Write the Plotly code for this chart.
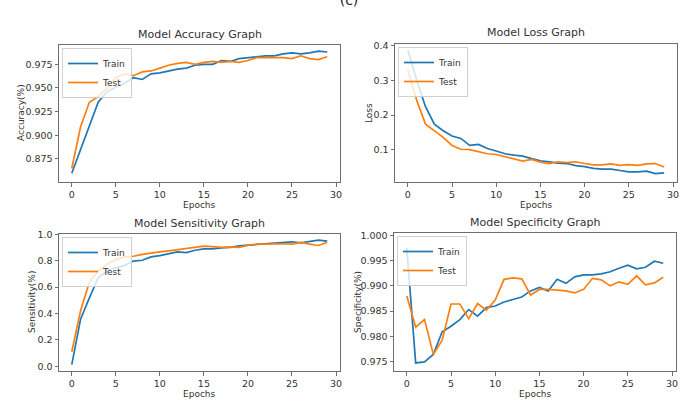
import plotly.graph_objects as go

epochs = list(range(30))

acc_train = [0.860, 0.885, 0.912, 0.935, 0.946, 0.951, 0.955, 0.961, 0.959, 0.965,
             0.966, 0.968, 0.970, 0.971, 0.974, 0.975, 0.975, 0.979, 0.978, 0.981,
             0.982, 0.983, 0.984, 0.984, 0.986, 0.987, 0.986, 0.987, 0.989, 0.988]
acc_test = [0.865, 0.909, 0.935, 0.941, 0.950, 0.961, 0.965, 0.963, 0.967, 0.968,
            0.971, 0.974, 0.976, 0.977, 0.975, 0.977, 0.978, 0.977, 0.978, 0.977,
            0.979, 0.982, 0.982, 0.982, 0.982, 0.981, 0.984, 0.981, 0.980, 0.983]

loss_train = [0.387, 0.300, 0.224, 0.174, 0.155, 0.140, 0.133, 0.113, 0.116, 0.104,
              0.097, 0.089, 0.085, 0.082, 0.075, 0.069, 0.066, 0.062, 0.061, 0.055,
              0.052, 0.047, 0.045, 0.045, 0.041, 0.037, 0.037, 0.039, 0.032, 0.034]
loss_test = [0.330, 0.243, 0.174, 0.155, 0.136, 0.113, 0.102, 0.101, 0.094, 0.089,
             0.087, 0.080, 0.074, 0.068, 0.073, 0.065, 0.061, 0.066, 0.064, 0.066,
             0.061, 0.057, 0.057, 0.060, 0.056, 0.058, 0.056, 0.060, 0.061, 0.051]

sens_train = [0.013, 0.357, 0.518, 0.671, 0.722, 0.747, 0.765, 0.798, 0.804, 0.829,
              0.839, 0.855, 0.867, 0.862, 0.880, 0.890, 0.890, 0.898, 0.901, 0.913,
              0.918, 0.926, 0.931, 0.931, 0.936, 0.944, 0.936, 0.944, 0.957, 0.949]
sens_test = [0.110, 0.421, 0.638, 0.722, 0.773, 0.809, 0.829, 0.834, 0.849, 0.860,
             0.867, 0.875, 0.885, 0.893, 0.901, 0.911, 0.908, 0.901, 0.906, 0.901,
             0.918, 0.926, 0.926, 0.929, 0.929, 0.926, 0.939, 0.926, 0.916, 0.941]

spec_train = [0.9975, 0.9747, 0.9749, 0.9764, 0.9809, 0.9820, 0.9833, 0.9853, 0.9840, 0.9857,
              0.9860, 0.9868, 0.9873, 0.9878, 0.9890, 0.9897, 0.9890, 0.9913, 0.9905, 0.9918,
              0.9922, 0.9922, 0.9924, 0.9928, 0.9935, 0.9941, 0.9934, 0.9937, 0.9949, 0.9945]
spec_test = [0.9880, 0.9818, 0.9833, 0.9764, 0.9792, 0.9864, 0.9864, 0.9835, 0.9865, 0.9852,
             0.9872, 0.9913, 0.9916, 0.9914, 0.9882, 0.9893, 0.9893, 0.9892, 0.9890, 0.9886,
             0.9893, 0.9915, 0.9912, 0.9900, 0.9908, 0.9903, 0.9920, 0.9902, 0.9906, 0.9917]

titles = ["Model Accuracy Graph", "Model Loss Graph", "Model Sensitivity Graph", "Model Specificity Graph"]
ylabels = ["Accuracy(%)", "Loss", "Sensitivity(%)", "Specificity(%)"]
series_labels = ["Train", "Test"]
x_ticks = [0, 5, 10, 15, 20, 25, 30]

W, H = 687, 401
BLUE = "#1f77b4"
ORANGE = "#ff7f0e"
FONT = "DejaVu Sans, sans-serif"
TXT = "#333333"

# panel boxes in pixels: (left, right, top, bottom)
boxes = [(59, 340, 45, 182), (395, 677, 44, 182), (59, 340, 234, 371), (394, 676, 233, 371)]
yranges = [[0.8507, 0.9954], [0.008, 0.404], [-0.036, 1.003], [0.9731, 1.0005]]
ytickvals = [[0.875, 0.900, 0.925, 0.950, 0.975], [0.1, 0.2, 0.3, 0.4],
             [0.0, 0.2, 0.4, 0.6, 0.8, 1.0], [0.975, 0.980, 0.985, 0.990, 0.995, 1.000]]
yfmt = [".3f", ".1f", ".1f", ".3f"]
data = [(acc_train, acc_test), (loss_train, loss_test), (sens_train, sens_test), (spec_train, spec_test)]

fig = go.Figure()
layout = dict(width=W, height=H, margin=dict(l=0, r=0, t=0, b=0, autoexpand=False),
              paper_bgcolor="white", plot_bgcolor="white", showlegend=True,
              font=dict(family=FONT, color=TXT, size=9),
              title=dict(text="(c)", x=349 / W, y=1.0, xref="paper", yref="container",
                         xanchor="center", yanchor="middle", automargin=False,
                         font=dict(family=FONT, size=14, color="#222222")))
annotations = []

for i, (box, yr) in enumerate(zip(boxes, yranges)):
    l, r, t, b = box
    n = "" if i == 0 else str(i + 1)
    xa, ya = "x" + n, "y" + n
    leg = "legend" + n
    tr, te = data[i]
    fig.add_trace(go.Scatter(x=epochs, y=tr, mode="lines", name=series_labels[0],
                             line=dict(color=BLUE, width=1.7), xaxis=xa, yaxis=ya, legend=leg))
    fig.add_trace(go.Scatter(x=epochs, y=te, mode="lines", name=series_labels[1],
                             line=dict(color=ORANGE, width=1.7), xaxis=xa, yaxis=ya, legend=leg))
    axcommon = dict(showgrid=False, zeroline=False, showline=True, linecolor="#6e6e6e", linewidth=1,
                    mirror=True, ticks="outside", ticklen=3.5, tickcolor="#6e6e6e",
                    tickfont=dict(family=FONT, size=9.5, color=TXT))
    layout["xaxis" + n] = dict(domain=[l / W, r / W], range=[-1.45, 30.45], anchor=ya,
                               tickvals=x_ticks, **axcommon)
    layout["yaxis" + n] = dict(domain=[1 - b / H, 1 - t / H], range=yr, anchor=xa,
                               tickvals=ytickvals[i], tickformat=yfmt[i], **axcommon)
    layout[leg] = dict(x=(l + 3) / W, y=1 - (t + 3) / H, xanchor="left", yanchor="top",
                       bgcolor="rgba(255,255,255,0.8)", bordercolor="#d0d0d0", borderwidth=1,
                       font=dict(family=FONT, size=9, color=TXT), tracegroupgap=0)
    annotations.append(dict(text=titles[i], x=(l + r) / 2 / W, y=1 - (t - 11) / H,
                            xref="paper", yref="paper", showarrow=False,
                            xanchor="center", yanchor="middle",
                            font=dict(family=FONT, size=11, color=TXT)))
    annotations.append(dict(text="Epochs", x=(l + r) / 2 / W, y=1 - (b + 23) / H,
                            xref="paper", yref="paper", showarrow=False,
                            xanchor="center", yanchor="middle",
                            font=dict(family=FONT, size=9, color=TXT)))

ylabel_x = [21, 369, 32, 358]
ylabel_y = [113, 113, 302, 302]
for i in range(4):
    annotations.append(dict(text=ylabels[i], x=ylabel_x[i] / W, y=1 - ylabel_y[i] / H,
                            xref="paper", yref="paper", showarrow=False, textangle=-90,
                            xanchor="center", yanchor="middle",
                            font=dict(family=FONT, size=9, color=TXT)))

layout["annotations"] = annotations
fig.update_layout(**layout)
fig.write_html("out.html", config={"displayModeBar": False},
               post_script="document.body.style.margin='0';document.body.style.overflow='hidden';")
